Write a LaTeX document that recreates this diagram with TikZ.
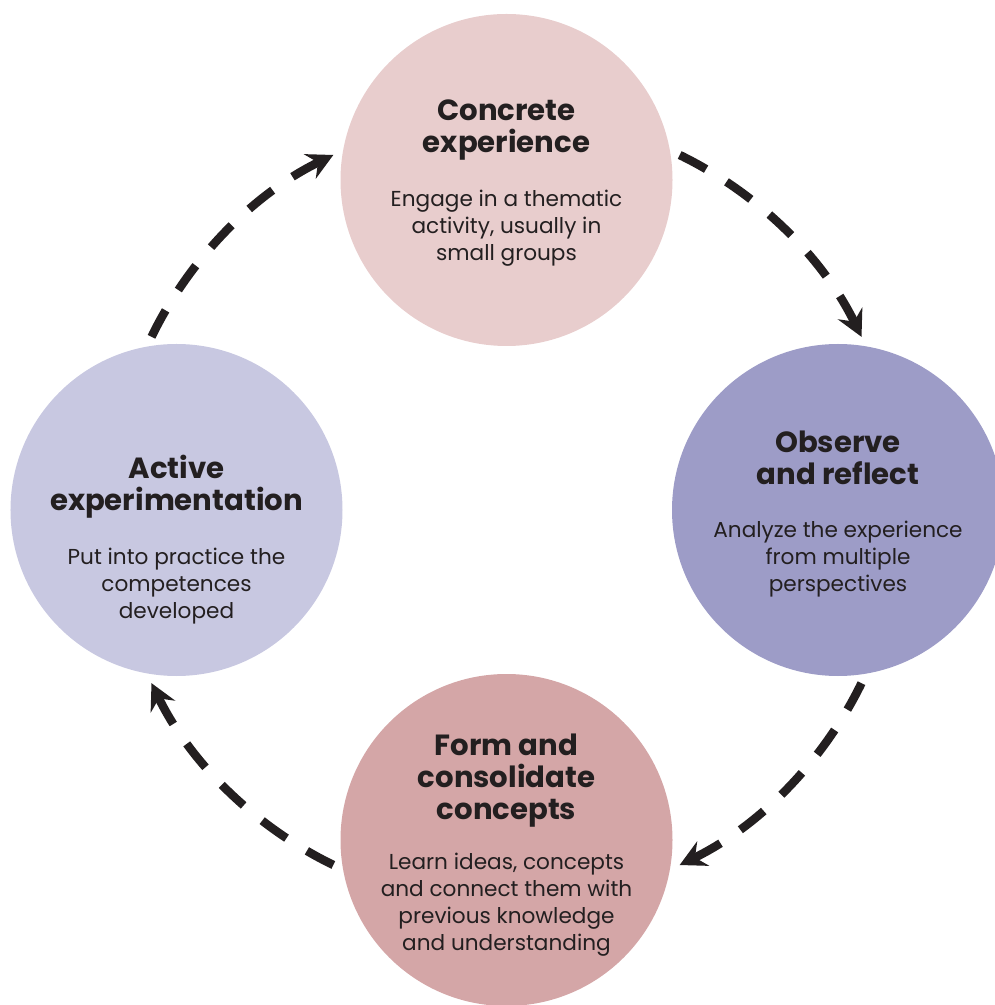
\documentclass[tikz,border=0pt]{standalone}
\usepackage{fontspec}
\setmainfont{Poppins}
\usetikzlibrary{arrows.meta,positioning}
\definecolor{ink}{HTML}{231F20}
\definecolor{ceFill}{HTML}{E8CDCD}
\definecolor{orFill}{HTML}{9D9CC7}
\definecolor{fcFill}{HTML}{D4A6A7}
\definecolor{aeFill}{HTML}{C8C8E1}
\tikzset{stage/.style={circle, minimum size=6.64cm, inner sep=0pt},
         heading/.style={text=ink, align=center, font=\fontsize{16.6}{18.2}\selectfont\bfseries},
         blurb/.style={text=ink, align=center, font=\fontsize{12.3}{15.4}\selectfont},
         flow/.style={ink, line width=0.17cm, dash pattern=on 0.6cm off 0.48cm,
                      -{Stealth[length=0.52cm,width=0.54cm,inset=0.18cm]}}}

\begin{document}
\begin{tikzpicture}
   \useasboundingbox (-10.13,-9.9) rectangle (9.77,10.2);
   \coordinate (hub) at (0,0);
   % the four stages
   \node[stage, fill=ceFill] (ce) at (0,6.6)  {};
   \node[stage, fill=orFill] (or) at (6.63,0) {};
   \node[stage, fill=fcFill] (fc) at (0,-6.6) {};
   \node[stage, fill=aeFill] (ae) at (-6.6,0) {};
   % texts
   \node[heading] (ceHead) at ([yshift=1.0cm]ce.center)   {Concrete\\experience};
   \node[blurb]   (ceBody) at ([yshift=-0.96cm]ce.center) {Engage in a thematic\\activity, usually in\\small groups};
   \node[heading] (orHead) at ([yshift=1.04cm]or.center)  {Observe\\and reflect};
   \node[blurb]   (orBody) at ([yshift=-0.98cm]or.center) {Analyze the experience\\from multiple\\perspectives};
   \node[heading] (fcHead) at ([yshift=1.19cm]fc.center)  {Form and\\consolidate\\concepts};
   \node[blurb]   (fcBody) at ([yshift=-1.29cm]fc.center) {Learn ideas, concepts\\and connect them with\\previous knowledge\\and understanding};
   \node[heading] (aeHead) at ([yshift=0.46cm]ae.center)  {Active\\experimentation};
   \node[blurb]   (aeBody) at ([yshift=-1.52cm]ae.center) {Put into practice the\\competences\\developed};
   % the cycle
   \draw[flow] ([shift={(64:7.9)}]hub)   arc[start angle=64,   end angle=26,   radius=7.9];
   \draw[flow] ([shift={(-26:7.9)}]hub)  arc[start angle=-26,  end angle=-64,  radius=7.9];
   \draw[flow] ([shift={(-116:7.9)}]hub) arc[start angle=-116, end angle=-154, radius=7.9];
   \draw[flow] ([shift={(154:7.9)}]hub)  arc[start angle=154,  end angle=116,  radius=7.9];
\end{tikzpicture}
\end{document}
